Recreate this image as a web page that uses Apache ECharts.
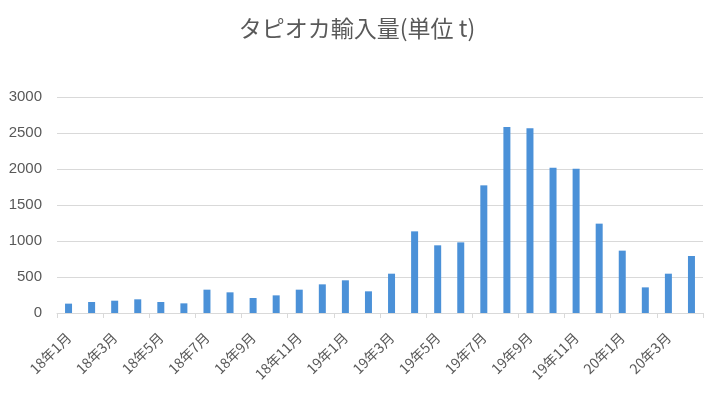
<!DOCTYPE html>
<html>
<head>
<meta charset="utf-8">
<script src="https://cdn.jsdelivr.net/npm/echarts@6/dist/echarts.min.js"></script>
<style>html,body{margin:0;padding:0;background:#fff}#c{width:714px;height:397px}</style>
</head>
<body>
<div id="c"></div>
<script>
var categories = ['18年1月','18年2月','18年3月','18年4月','18年5月','18年6月','18年7月','18年8月','18年9月','18年10月','18年11月','18年12月',
  '19年1月','19年2月','19年3月','19年4月','19年5月','19年6月','19年7月','19年8月','19年9月','19年10月','19年11月','19年12月',
  '20年1月','20年2月','20年3月','20年4月'];
var imports = [130,153,171,190,153,134,324,287,208,245,324,398,
  454,301,546,1134,940,981,1773,2583,2565,2019,2005,1241,
  866,356,546,792];
var yTicks = [0,500,1000,1500,2000,2500,3000];
var titleText = 'タピオカ輸入量(単位 t)';

var chart = echarts.init(document.getElementById('c'), null, {renderer:'canvas'});
chart.setOption({
  animation: false,
  backgroundColor: '#fff',
  title: {
    text: titleText,
    left: 'center',
    top: 12,
    textStyle: {fontFamily: 'Noto Sans CJK JP', fontSize: 23, fontWeight: 'normal', color: '#595959'}
  },
  grid: {left: 57, right: 11, top: 97, bottom: 84, containLabel: false},
  xAxis: {
    type: 'category',
    data: categories,
    boundaryGap: true,
    axisLine: {lineStyle: {color: '#d9d9d9', width: 1}},
    axisTick: {show: true, interval: 1, length: 5, lineStyle: {color: '#d9d9d9'}},
    axisLabel: {interval: 1, rotate: 45, fontFamily: 'Noto Sans CJK JP', fontSize: 14, color: '#595959', margin: 22}
  },
  yAxis: {
    type: 'value',
    min: yTicks[0],
    max: yTicks[yTicks.length-1],
    interval: 500,
    axisLine: {show: false},
    axisTick: {show: false},
    splitLine: {lineStyle: {color: '#d9d9d9', width: 1}},
    axisLabel: {fontFamily: 'Liberation Sans', fontSize: 15, color: '#595959', margin: 15,
      formatter: function (v) { return String(v); }}
  },
  series: [{
    type: 'bar',
    data: imports,
    barWidth: 7,
    itemStyle: {color: '#4B91D8'}
  }]
});
</script>
</body>
</html>
